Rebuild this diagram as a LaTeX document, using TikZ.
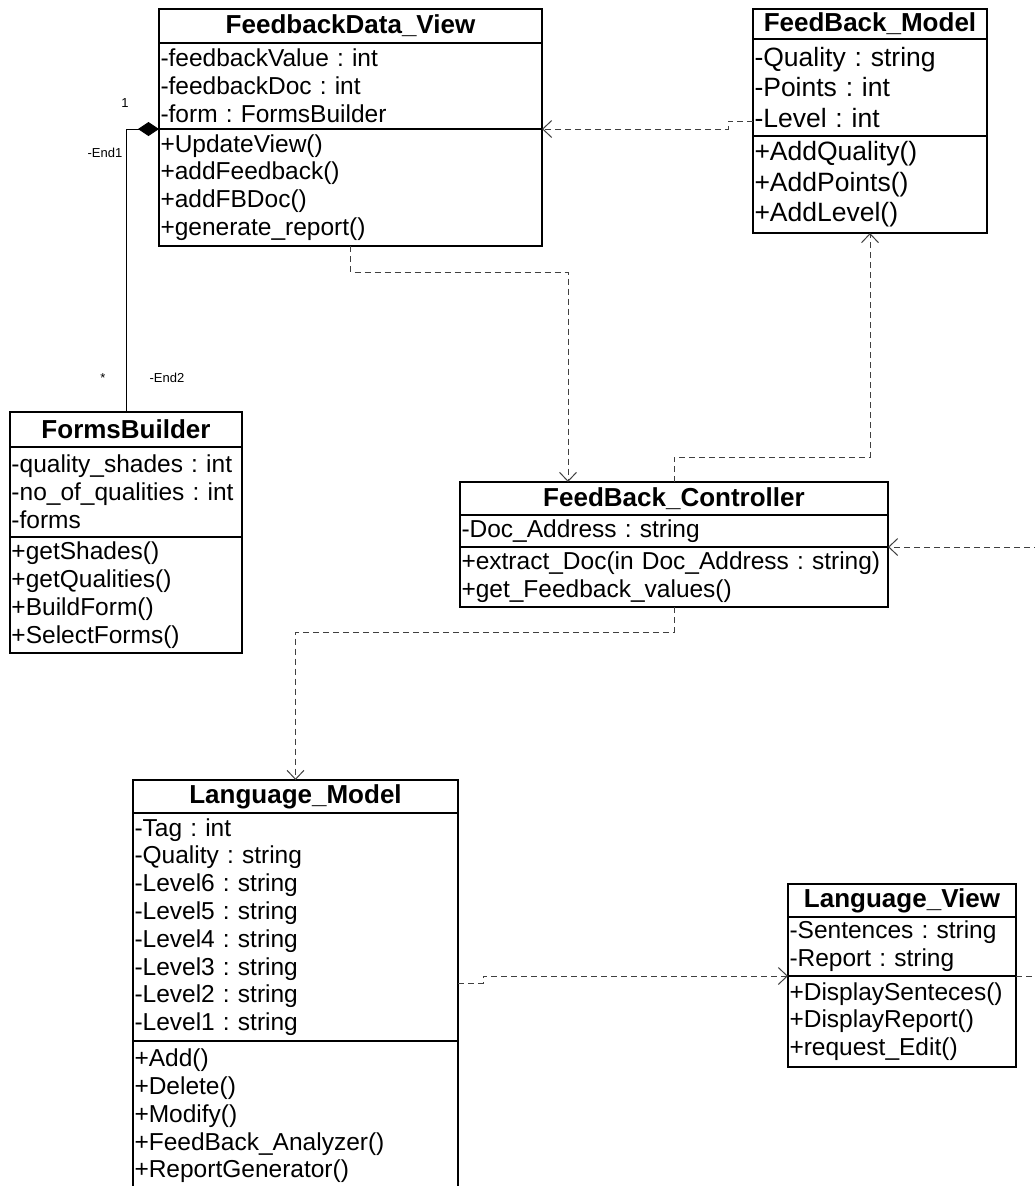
\documentclass[tikz,border=0pt]{standalone}
\usepackage{fontspec}
\setmainfont{Liberation Sans}
\usetikzlibrary{positioning,arrows.meta}
\frenchspacing

\begin{document}
\begin{tikzpicture}[x=1pt, y=-1pt,
classname/.style={rectangle, draw=black, line width=1.2pt, outer sep=0pt, inner xsep=1.5pt, inner ysep=0pt, align=center, font=\bfseries\fontsize{26}{30}\selectfont},
members/.style={rectangle, draw=black, line width=1.2pt, outer sep=0pt, inner xsep=1.5pt, inner ysep=0pt, align=left, font=\fontsize{24.5}{27.8}\selectfont},
bigmembers/.style={members, font=\fontsize{26.5}{30.5}\selectfont},
depend/.style={draw=black!75, line width=1pt, dash pattern=on 6pt off 4pt, -{Straight Barb[length=9pt,width=17pt]}},
comp/.style={draw=black, line width=1pt, {Diamond[length=21pt,width=14pt]}-},
endlabel/.style={font=\fontsize{13}{15}\selectfont, inner sep=0pt},
]
\useasboundingbox (0,0) rectangle (1034,1186);

%Classes
\node[classname, text width=380pt, minimum height=34pt, anchor=north west] (fdv_t) at (159,9) {FeedbackData\_View};
\node[members, text width=380pt, minimum height=86pt, below=0pt of fdv_t] (fdv_a) {-feedbackValue : int\\-feedbackDoc : int\\-form : FormsBuilder};
\node[members, text width=380pt, minimum height=117pt, below=0pt of fdv_a] (fdv_m) {+UpdateView()\\+addFeedback()\\+addFBDoc()\\+generate\_report()};

\node[classname, text width=231pt, minimum height=30pt, anchor=north west] (fbm_t) at (753,9) {FeedBack\_Model};
\node[bigmembers, text width=231pt, minimum height=97pt, below=0pt of fbm_t] (fbm_a) {-Quality : string\\-Points : int\\-Level : int};
\node[bigmembers, text width=231pt, minimum height=97pt, below=0pt of fbm_a] (fbm_m) {+AddQuality()\\+AddPoints()\\+AddLevel()};

\node[classname, text width=229pt, minimum height=35pt, anchor=north west] (fb_t) at (10,412) {FormsBuilder};
\node[members, text width=229pt, minimum height=90pt, below=0pt of fb_t] (fb_a) {-quality\_shades : int\\-no\_of\_qualities : int\\-forms};
\node[members, text width=229pt, minimum height=116pt, below=0pt of fb_a] (fb_m) {+getShades()\\+getQualities()\\+BuildForm()\\+SelectForms()};

\node[classname, text width=425pt, minimum height=33pt, anchor=north west] (ctl_t) at (460,482) {FeedBack\_Controller};
\node[members, text width=425pt, minimum height=32pt, below=0pt of ctl_t] (ctl_a) {-Doc\_Address : string};
\node[members, text width=425pt, minimum height=60pt, below=0pt of ctl_a] (ctl_m) {+extract\_Doc(in Doc\_Address : string)\\+get\_Feedback\_values()};

\node[classname, text width=322pt, minimum height=33pt, anchor=north west] (lm_t) at (133,780) {Language\_Model};
\node[members, text width=322pt, minimum height=228pt, below=0pt of lm_t] (lm_a) {-Tag : int\\-Quality : string\\-Level6 : string\\-Level5 : string\\-Level4 : string\\-Level3 : string\\-Level2 : string\\-Level1 : string};
\node[members, text width=322pt, minimum height=150pt, below=0pt of lm_a] (lm_m) {+Add()\\+Delete()\\+Modify()\\+FeedBack\_Analyzer()\\+ReportGenerator()\\[2pt]};

\node[classname, text width=225pt, minimum height=33pt, anchor=north west] (lv_t) at (788,884) {Language\_View};
\node[members, text width=225pt, minimum height=59pt, below=0pt of lv_t] (lv_a) {-Sentences : string\\-Report : string};
\node[members, text width=225pt, minimum height=91pt, below=0pt of lv_a] (lv_m) {+DisplaySenteces()\\+DisplayReport()\\+request\_Edit()};

%Free ends
\coordinate (ctl_in) at (1040,547);
\coordinate (lv_out) at (1040,976);

%Lines
\draw[comp] (fdv_m.north west) -| (fb_t.north);
\node[endlabel] (end1_mult) at (125,103) {1};
\node[endlabel] (end1_name) at (105,153) {-End1};
\node[endlabel] (end2_mult) at (103,378) {*};
\node[endlabel] (end2_name) at (167,378) {-End2};

\draw[depend] ([yshift=15pt]fbm_a.south west) -- ++(-25,0) |- (fdv_m.north east);
\draw[depend] (fdv_m.south) -- ++(0,26) -| ([xshift=108pt]ctl_t.north west);
\draw[depend] (ctl_t.north) -- ++(0,-25) -| (fbm_m.south);
\draw[depend] (ctl_m.south) -- ++(0,25) -| (lm_t.north);
\draw[depend] ([yshift=58pt]lm_a.south east) -- ++(25,0) |- (lv_m.north west);
\draw[depend] (ctl_in) -- (ctl_m.north east);
\draw[depend, -] (lv_m.north east) -- (lv_out);

\end{tikzpicture}
\end{document}
